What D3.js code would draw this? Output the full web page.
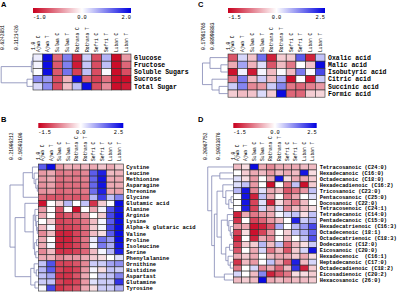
<!DOCTYPE html>
<html>
<head>
<meta charset="utf-8">
<script src="https://cdn.jsdelivr.net/npm/d3@7"></script>
<style>
  body { margin: 0; background: #fff; }
  text { font-family: "Liberation Mono", "DejaVu Sans Mono", monospace; fill: #000; white-space: pre; }
  .letter { font-family: "Liberation Sans", Arial, sans-serif; font-weight: bold; }
  .rowlab { font-weight: bold; }
</style>
</head>
<body>
<svg width="400" height="292"></svg>
<script>
var cultivars = ["Ajwa C", "Ajwa T", "Sulwa C", "Sulwa T", "Rothana C", "Rothana T", "Sefri C", "Sefri T", "Luban C", "Luban T"];

// A - sugars
var sugarRows = ["Glucose", "Fructose", "Soluble Sugars", "Sucrose", "Total Sugar"];
var sugarValues = [
  [0.15, 1.9, -0.6, 1.0, -0.85, 0.4, -0.7, 0.6, -0.95, -0.4],
  [0.1, 1.9, -0.65, 1.0, -0.9, 0.45, -0.7, 0.5, -0.95, -0.6],
  [0.02, 1.9, -0.65, 1.1, -0.75, 0.5, -0.7, 0.05, -0.95, -0.7],
  [0.9, 0.8, -0.7, -0.3, 1.9, -0.6, -0.75, -0.55, -0.95, -0.95],
  [0.3, 0.9, -0.7, -0.25, 0.5, 1.9, -0.7, -0.45, -0.95, -0.9]
];
var sugarTree = [0.66, [0.03, [0.01, 0, 1], 2], [0.11, 3, 4]];
var sugarRange = [-1.0, 0.0, 2.0];
var sugarRangeLabels = ["-1.0", "0.0", "2.0"];
var sugarCuts = [0.6242851, 0.3121426, 0];
var sugarCutLabels = ["0.6242851", "0.3121426", "1.0"];

// C - organic acids
var acidRows = ["Oxalic acid", "Malic acid", "Isobutyric acid", "Citric acid", "Succinic acid", "Formic acid"];
var acidValues = [
  [-1.0, 0.4, -0.35, 1.4, -1.3, -0.3, -0.3, 1.6, -1.3, 0.6],
  [-0.5, 0.9, -0.45, 0.3, -1.0, -0.4, -0.8, 0.0, -0.35, 2.4],
  [-1.4, 0.15, -1.35, 0.1, -0.4, 0.05, -0.4, 1.3, 0.05, 1.8],
  [-0.8, 1.3, -0.4, 0.5, -0.4, 0.8, -1.4, 0.0, -1.35, 0.5],
  [0.5, 1.2, -0.7, -0.6, 0.5, 1.2, -0.8, -0.9, -0.75, -0.6],
  [-0.3, -0.4, -0.35, 0.35, -0.3, 2.4, -0.9, -0.9, -0.3, -0.25]
];
var acidTree = [0.185, [0.11, 0, [0.04, 1, 2]], [0.09, 3, [0.05, 4, 5]]];
var acidRange = [-1.5, 0.0, 2.5];
var acidRangeLabels = ["-1.5", "0.0", "2.5"];
var acidCuts = [0.17981765, 0.08990883, 0];
var acidCutLabels = ["0.17981765", "0.08990883", "1.0"];

// B - amino acids
var aminoRows = ["Cystine", "Leucine", "Methionine", "Asparagine", "Threonine", "Glycine", "Glutamic acid",
  "Alanine", "Arginie", "Lysine", "Alpha-k glutaric acid", "Valine", "Proline", "Isoleucine", "Serine",
  "Phenylalanine", "Ornithine", "Histidine", "Aspartast", "Glutamine", "Tyrosine"];
var aminoValues = [
  [1.6, 2.4, -0.6, -0.45, -0.5, -0.45, -0.5, -0.35, -0.5, -0.3],
  [-0.6, -0.5, -0.8, -0.75, -0.8, -0.7, 1.6, 2.2, -0.4, -0.45],
  [-0.6, -0.5, -0.85, -0.8, -0.8, -0.75, 1.5, 2.3, -0.5, -0.5],
  [-0.65, -0.55, -0.9, -0.85, -0.85, -0.8, 1.5, 2.3, -0.5, -0.5],
  [-0.65, -0.6, -0.9, -0.85, -0.85, -0.8, 1.4, 2.2, -0.5, -0.55],
  [-0.9, -1.0, -1.0, -0.95, -1.0, -0.9, 0.7, 1.9, 0.6, 1.2],
  [-1.4, 0.0, -0.3, 0.7, 0.0, 0.6, -1.2, -0.3, 0.05, 2.4],
  [-0.6, 0.0, -1.0, 0.0, -1.4, 0.0, -0.5, 0.1, 1.7, 2.3],
  [-0.5, 0.0, -1.1, -1.0, -0.9, -0.6, 0.0, -0.3, 1.8, 2.4],
  [0.0, -0.3, -1.1, -1.05, -1.0, -0.8, -0.4, 0.1, 1.6, 2.4],
  [-0.4, 0.1, -1.1, -1.1, -1.05, -0.8, -0.3, 0.1, 1.8, 2.4],
  [-0.7, -0.4, -1.3, -1.3, -1.1, -0.9, -0.4, -0.2, 1.6, 2.4],
  [-0.5, 0.0, -1.3, -1.3, -1.1, -0.8, 0.2, 1.4, 1.0, 2.4],
  [-0.5, 0.1, -1.3, -1.25, -1.1, -0.85, 0.1, 1.3, 0.8, 2.3],
  [-0.7, -0.4, -1.2, -1.2, -1.1, -0.9, -0.4, 0.1, 0.7, 2.2],
  [-0.5, -0.45, -0.7, -0.6, -0.6, -0.5, -0.3, -0.2, 0.0, 0.3],
  [0.6, 1.7, -1.1, -1.1, -1.0, -0.7, 0.5, 0.5, 0.9, 1.1],
  [0.7, 1.6, -1.1, -1.2, -1.1, -0.6, 0.1, -0.2, 0.6, 0.5],
  [0.6, 0.9, -1.2, -1.2, -1.0, -0.5, 0.0, 0.5, 0.6, 1.2],
  [0.5, 0.6, -1.1, -1.2, -1.1, -0.6, 0.3, 0.5, 0.5, 2.0],
  [0.1, 1.8, -1.2, -1.1, -1.0, -0.5, -0.2, 0.5, 0.5, 0.8]
];
var aminoTree = [0.23,
  [0.09, [0.035, 0, [0.025, 1, [0.015, 2, [0.006, 3, 4]]]], 5],
  [0.17,
    [0.08, 6, [0.03, [0.02, 7, [0.015, 8, [0.01, 9, [0.006, 10, 11]]]], [0.022, [0.01, 12, 13], [0.015, 14, 15]]]],
    [0.045, [0.025, 16, [0.012, 17, 18]], [0.02, 19, 20]]]];
var aminoRange = [-1.5, 0.0, 2.5];
var aminoRangeLabels = ["-1.5", "0.0", "2.5"];
var aminoCuts = [0.21006212, 0.10503106, 0];
var aminoCutLabels = ["0.21006212", "0.10503106", "1.0"];

// D - fatty acids
var fattyRows = ["Tetracosanoic (C24:0)", "Hexadecanoic (C16:0)", "Octadecanoic (C18:0)", "Hexadecadienoic (C16:2)",
  "Tricosanoic (C23:0)", "Pentacosanoic (C25:0)", "Docosanoic (C22:0)", "Tetracosenoic (C24:1)",
  "Tetradecanoic (C14:0)", "Pentadecanoic (C15:0)", "Hexadecatrienoic (C16:3)", "Octadecenoic (18:1)",
  "Octadecatrienoic (C18:3)", "Dodecanoic (C12:0)", "Eicosanoic (C20:0)", "Hexadecenoic  (C16:1)",
  "Heptadecanoic (C17:0)", "Octadecadienoic (C18:2)", "Eicosadienoic (C20:2)", "Hexacosanoic (26:0)"];
var fattyValues = [
  [-0.4, -0.2, 2.4, -0.5, -0.7, -0.5, -0.5, -0.5, -0.4, -0.4],
  [0.0, -0.3, -0.5, -0.4, -0.6, -0.4, -0.5, -0.4, 2.3, -0.2],
  [0.3, -0.2, -0.6, 0.0, -0.5, 2.3, -0.2, -0.5, -0.5, -0.3],
  [0.3, 0.6, -0.6, 0.0, -1.4, 0.0, -0.8, 0.6, -1.4, -0.3],
  [0.7, 2.3, -0.7, 0.3, -0.5, -0.4, -1.0, -0.8, -0.6, 0.6],
  [0.0, 2.3, -1.3, 0.6, -0.5, 0.0, -0.8, -0.5, 0.0, 0.3],
  [0.0, 2.3, -1.1, 0.3, -1.3, -0.2, -0.6, -0.8, -0.4, 0.0],
  [0.0, 2.2, -1.1, 0.4, -0.5, 0.3, -0.7, -0.4, -0.4, -0.2],
  [-1.3, -0.5, -0.8, -0.6, -0.5, 0.1, 0.4, 0.6, -0.2, 0.6],
  [-1.2, 0.0, -1.1, -0.9, -0.6, -0.4, 0.0, 2.2, 0.5, 0.8],
  [-0.6, -0.5, -1.4, -1.3, -1.0, 0.8, 0.0, 0.7, 1.0, 1.8],
  [-1.1, -0.2, -1.4, -1.1, -0.6, 0.0, -0.3, 0.6, 0.8, 1.5],
  [-1.3, 0.0, -1.3, -0.5, -0.7, 0.0, -0.4, 0.0, 0.6, 1.7],
  [-1.1, -0.3, -0.3, 0.7, -0.4, 0.6, -0.9, -0.4, -0.2, 0.5],
  [-1.0, 0.0, -0.5, 0.4, -0.8, -0.4, -1.0, -0.3, 0.4, 2.3],
  [-0.5, -0.3, -0.5, 0.0, -0.4, -0.5, -0.5, -0.3, -0.5, -0.2],
  [-1.2, -0.4, -0.6, 0.0, 0.6, -0.5, -1.0, 2.2, -0.4, 0.4],
  [-0.8, 0.0, 0.4, -0.7, -0.5, -0.9, -0.4, 2.0, -1.3, -0.3],
  [0.4, 0.0, -0.4, 1.2, -1.3, -1.0, -0.8, -0.2, -0.2, -0.3],
  [-0.4, -0.3, -0.4, 2.4, -0.5, -0.4, -0.5, -0.4, -0.4, -0.3]
];
var fattyTree = [0.18, 0,
  [0.15, [0.09, 1, 2],
    [0.13,
      [0.11,
        [0.07, 3, [0.05, 4, [0.03, [0.015, 5, 6], 7]]],
        [0.08, [0.04, 8, [0.03, 9, [0.02, 10, [0.01, 11, 12]]]],
               [0.05, [0.025, 13, 14], [0.035, 15, [0.02, 16, 17]]]]],
      [0.06, 18, 19]]]];
var fattyRange = [-1.5, 0.0, 2.5];
var fattyRangeLabels = ["-1.5", "0.0", "2.5"];
var fattyCuts = [0.20067752, 0.10033876, 0];
var fattyCutLabels = ["0.20067752", "0.10033876", "1.0"];

var RED = "#c8001e", BLUE = "#0000e0";
var svg = d3.select("svg");
var defs = svg.append("defs");

function drawPanel(p) {
  var g = svg.append("g");

  g.append("text").attr("class", "letter")
    .attr("x", p.lx).attr("y", p.ly)
    .style("font-size", "7.5px")
    .text(p.letter);

  var x = d3.scaleBand().domain(cultivars).range([p.x0, p.x1]);
  var y = d3.scaleBand().domain(p.rows).range([p.y0, p.y0 + p.rh * p.rows.length]);
  var color = d3.scaleLinear().domain(p.range).range([RED, "#ffffff", BLUE]);

  // colour key
  var grad = defs.append("linearGradient").attr("id", "grad" + p.letter);
  grad.selectAll("stop")
    .data([RED, "#ffffff", BLUE])
    .enter().append("stop")
    .attr("offset", function(d, i) { return (i * 50) + "%"; })
    .attr("stop-color", function(d) { return d; });

  g.append("rect")
    .attr("x", p.x0).attr("y", p.cbY)
    .attr("width", p.x1 - p.x0).attr("height", 5)
    .attr("fill", "url(#grad" + p.letter + ")");

  var key = d3.scaleLinear().domain(p.range).range([p.x0, (p.x0 + p.x1) / 2, p.x1]);
  g.selectAll(".keylab")
    .data(p.range)
    .enter().append("text")
    .attr("x", function(d) { return key(d); })
    .attr("y", p.cbY + 10.5)
    .attr("text-anchor", function(d, i) { return ["start", "middle", "end"][i]; })
    .style("font-size", "5.3px")
    .text(function(d, i) { return p.rangeLabels[i]; });

  // cells
  var cells = [];
  p.values.forEach(function(row, i) {
    row.forEach(function(v, j) { cells.push({r: p.rows[i], c: cultivars[j], v: v}); });
  });
  g.selectAll(".cell")
    .data(cells)
    .enter().append("rect")
    .attr("x", function(d) { return x(d.c); })
    .attr("y", function(d) { return y(d.r); })
    .attr("width", x.bandwidth())
    .attr("height", y.bandwidth())
    .attr("fill", function(d) { return color(d.v); })
    .attr("stroke", "#2b2b2b")
    .attr("stroke-width", 0.6);

  // column labels
  g.selectAll(".collab")
    .data(cultivars)
    .enter().append("text")
    .attr("transform", function(d) { return "translate(" + (x(d) + x.bandwidth() / 2) + "," + p.colY + ") rotate(-90)"; })
    .attr("dy", "0.35em")
    .style("font-size", "4.6px")
    .text(function(d) { return d; });

  // row labels
  g.selectAll(".rowlab")
    .data(p.rows)
    .enter().append("text")
    .attr("class", "rowlab")
    .attr("x", p.x1 + 3)
    .attr("y", function(d) { return y(d) + y.bandwidth() / 2; })
    .attr("dy", "0.35em")
    .style("font-size", p.rowFont + "px")
    .text(function(d) { return d; });

  // dendrogram
  var dx = d3.scaleLinear().domain(p.cuts).range(p.cutX);

  g.selectAll(".cutlab")
    .data(p.cuts)
    .enter().append("text")
    .attr("transform", function(d) { return "translate(" + dx(d) + "," + p.cutY + ") rotate(-90)"; })
    .attr("dy", "0.35em")
    .style("font-size", "4.6px")
    .text(function(d, i) { return p.cutLabels[i]; });

  var path = d3.path();
  function node(n) {
    if (typeof n === "number") return {x: p.x0, y: y(p.rows[n]) + y.bandwidth() / 2};
    var a = node(n[1]), b = node(n[2]), hx = dx(n[0]);
    path.moveTo(a.x, a.y);
    path.lineTo(hx, a.y);
    path.lineTo(hx, b.y);
    path.lineTo(b.x, b.y);
    return {x: hx, y: (a.y + b.y) / 2};
  }
  node(p.tree);
  g.append("path")
    .attr("d", path.toString())
    .attr("fill", "none")
    .attr("stroke", "#8286b4")
    .attr("stroke-width", 0.8);
}

drawPanel({letter: "A", lx: 1, ly: 7, rows: sugarRows, values: sugarValues, tree: sugarTree,
  range: sugarRange, rangeLabels: sugarRangeLabels, cuts: sugarCuts, cutLabels: sugarCutLabels,
  x0: 33, x1: 131, y0: 54, rh: 7.2, cbY: 8, colY: 52, cutY: 50, cutX: [2.7, 16, 33], rowFont: 6.5});

drawPanel({letter: "C", lx: 198, ly: 7, rows: acidRows, values: acidValues, tree: acidTree,
  range: acidRange, rangeLabels: acidRangeLabels, cuts: acidCuts, cutLabels: acidCutLabels,
  x0: 228, x1: 325, y0: 54, rh: 7.2, cbY: 8, colY: 52, cutY: 50, cutX: [203, 212, 228], rowFont: 6.5});

drawPanel({letter: "B", lx: 1, ly: 122, rows: aminoRows, values: aminoValues, tree: aminoTree,
  range: aminoRange, rangeLabels: aminoRangeLabels, cuts: aminoCuts, cutLabels: aminoCutLabels,
  x0: 38.3, x1: 123.3, y0: 164, rh: 6.05, cbY: 123, colY: 161, cutY: 160, cutX: [11.7, 20.7, 38.3], rowFont: 5.5});

drawPanel({letter: "D", lx: 198, ly: 122, rows: fattyRows, values: fattyValues, tree: fattyTree,
  range: fattyRange, rangeLabels: fattyRangeLabels, cuts: fattyCuts, cutLabels: fattyCutLabels,
  x0: 233.3, x1: 316.7, y0: 164, rh: 5.95, cbY: 123, colY: 161, cutY: 160, cutX: [205, 218.3, 233.3], rowFont: 5.35});
</script>
</body>
</html>
